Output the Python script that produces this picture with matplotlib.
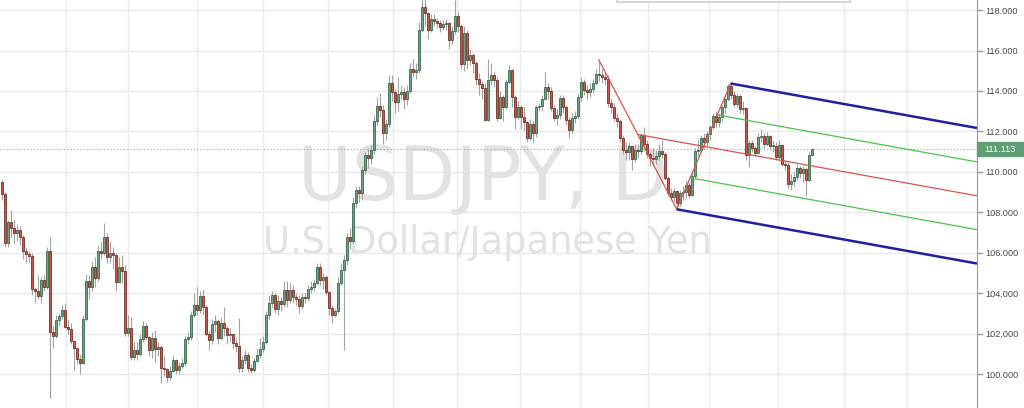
import matplotlib
matplotlib.use("Agg")
import matplotlib.pyplot as plt
from matplotlib.patches import Rectangle
import numpy as np

# USDJPY daily candles, one per trading day (Jun 2016 - Jun 2017)
first_open = 109.5
closes = [
    108.9, 106.5, 107.5, 107.2, 107.0, 107.1, 106.8, 106.1, 105.95, 105.85,
    104.2, 104.1, 103.85, 104.65, 104.3, 106.1, 102.1, 101.9, 102.65, 102.85,
    103.15, 102.35, 102.25, 101.65, 101.3, 100.75, 100.55, 102.7, 104.6, 104.3,
    105.3, 104.75, 106.1, 106.0, 106.8, 105.8, 106.0, 105.9, 104.55, 105.3,
    105.1, 102.05, 102.3, 100.85, 101.2, 101.0, 101.75, 102.4, 101.85, 101.2,
    101.8, 101.25, 101.35, 100.3, 100.25, 99.85, 100.15, 100.7, 100.2, 100.4,
    100.55, 101.75, 101.85, 102.9, 103.4, 103.15, 103.85, 103.3, 102.0, 101.7,
    102.45, 102.6, 101.8, 102.5, 102.3, 101.95, 102.0, 101.55, 101.4, 100.3,
    100.7, 100.95, 100.3, 100.2, 100.65, 100.95, 101.25, 101.6, 102.9, 103.5,
    103.9, 103.2, 103.6, 103.45, 104.15, 103.65, 104.15, 103.8, 103.7, 103.35,
    103.8, 103.75, 104.2, 104.3, 104.5, 105.3, 104.65, 104.8, 104.05, 103.25,
    102.9, 103.1, 104.5, 105.15, 105.65, 106.8, 106.6, 108.45, 109.1, 108.95,
    110.1, 110.85, 110.7, 111.1, 112.5, 113.25, 113.05, 111.9, 112.35, 114.4,
    113.95, 113.45, 113.85, 113.95, 113.6, 114.0, 115.1, 114.95, 115.05, 117.0,
    118.15, 117.85, 117.0, 117.55, 117.45, 117.35, 117.15, 117.3, 117.35, 116.5,
    116.95, 117.7, 117.2, 115.35, 116.85, 115.55, 115.8, 115.4, 114.6, 114.35,
    114.15, 112.55, 114.55, 114.8, 114.55, 112.65, 113.7, 113.2, 114.45, 115.05,
    113.7, 112.7, 113.2, 112.7, 112.45, 111.65, 112.35, 111.9, 113.2, 113.25,
    113.6, 114.2, 114.0, 113.15, 112.65, 112.8, 113.65, 113.2, 112.55, 112.05,
    112.65, 112.75, 113.7, 114.45, 114.05, 113.95, 114.1, 114.4, 114.85, 114.8,
    114.7, 114.6, 113.4, 113.2, 112.65, 112.5, 111.65, 111.1, 111.0, 111.3,
    110.65, 111.1, 111.05, 111.8, 111.4, 110.9, 110.7, 110.65, 110.8, 111.05,
    110.9, 109.7, 108.95, 108.75, 109.05, 108.45, 108.95, 109.0, 109.35, 108.85,
    109.8, 111.05, 111.1, 111.65, 111.5, 111.85, 112.2, 112.75, 112.45, 112.7,
    113.2, 113.6, 114.25, 113.8, 113.35, 113.75, 113.1, 113.15, 110.85, 111.45,
    111.2, 110.95, 111.7, 111.75, 111.4, 111.75, 111.3, 111.3, 110.75, 111.35,
    110.4, 110.35, 109.4, 109.55, 109.75, 110.2, 109.95, 110.15, 109.6, 110.85,
    111.113,
]
highs = [
    109.6, 109.0, 107.6, 108.1, 107.6, 107.4, 107.3, 106.9, 106.3, 106.1,
    106.0, 104.3, 104.9, 104.8, 104.9, 106.3, 106.8, 102.4, 102.9, 103.0,
    103.4, 103.5, 102.7, 102.5, 101.7, 101.3, 101.0, 102.9, 104.95, 104.9,
    105.6, 105.8, 106.4, 106.6, 107.45, 107.0, 106.6, 106.3, 106.0, 105.8,
    105.9, 105.4, 102.9, 102.8, 101.6, 101.6, 102.0, 102.6, 102.5, 101.9,
    102.1, 102.2, 101.6, 101.45, 100.9, 100.3, 100.4, 100.95, 100.75, 100.6,
    100.8, 101.9, 102.1, 103.1, 104.0, 104.3, 104.1, 104.2, 103.4, 102.2,
    102.7, 102.9, 102.7, 102.8, 103.3, 102.4, 102.3, 102.0, 101.8, 102.75,
    100.9, 101.2, 101.1, 100.5, 100.8, 101.3, 101.8, 101.9, 103.1, 103.9,
    104.1, 104.0, 103.9, 103.8, 104.6, 104.6, 104.5, 104.4, 104.0, 103.9,
    104.0, 104.0, 104.4, 104.6, 104.7, 105.5, 105.5, 105.0, 104.9, 104.1,
    103.4, 103.2, 104.8, 105.5, 105.9, 107.0, 107.2, 108.75, 109.3, 109.3,
    110.3, 111.0, 111.2, 111.35, 112.8, 113.7, 113.9, 113.3, 112.6, 114.8,
    114.8, 114.1, 114.7, 114.3, 114.2, 114.3, 115.4, 115.6, 115.4, 117.4,
    118.6, 118.6, 117.9, 117.8, 117.8, 117.6, 117.5, 117.5, 117.55, 117.4,
    117.2, 118.5, 117.9, 117.3, 117.2, 117.0, 116.1, 115.9, 115.5, 114.9,
    114.5, 114.4, 115.6, 115.4, 115.0, 114.7, 114.0, 113.8, 114.6, 115.3,
    115.1, 113.8, 113.5, 113.3, 113.2, 112.5, 112.6, 112.5, 113.3, 113.4,
    113.8, 114.95, 114.4, 114.2, 113.3, 113.1, 113.8, 113.8, 113.3, 112.7,
    112.9, 113.0, 113.9, 114.7, 114.6, 114.3, 114.4, 114.6, 115.1, 115.5,
    115.1, 114.9, 114.8, 113.6, 113.4, 112.9, 112.6, 111.8, 111.5, 111.5,
    111.3, 111.4, 111.4, 111.9, 112.2, 111.6, 111.0, 111.2, 111.1, 111.4,
    111.6, 111.0, 109.8, 109.2, 109.2, 109.1, 109.1, 109.3, 109.6, 109.5,
    110.0, 111.2, 111.6, 111.8, 111.9, 112.0, 112.3, 112.9, 113.0, 112.9,
    113.3, 113.8, 114.35, 114.37, 114.0, 113.9, 113.85, 113.5, 113.2, 111.6,
    111.6, 111.3, 111.9, 112.1, 111.9, 111.95, 111.8, 111.6, 111.5, 111.6,
    111.4, 110.6, 110.5, 109.9, 110.0, 110.4, 110.3, 110.3, 110.2, 111.0,
    111.2,
]
lows = [
    108.6, 106.3, 106.3, 106.8, 106.5, 106.6, 106.4, 105.7, 105.5, 105.5,
    103.9, 103.5, 103.7, 103.5, 104.1, 104.2, 98.8, 101.3, 101.8, 102.4,
    102.7, 102.3, 102.0, 101.5, 100.2, 100.5, 100.0, 100.5, 102.6, 103.7,
    104.1, 104.3, 104.6, 105.7, 105.9, 105.5, 105.5, 105.2, 104.1, 104.5,
    104.5, 101.9, 101.9, 100.7, 100.7, 100.7, 100.9, 101.6, 101.7, 100.9,
    100.8, 100.6, 100.9, 99.55, 99.9, 99.6, 99.7, 100.1, 100.0, 100.0,
    100.3, 100.4, 101.5, 101.7, 102.8, 102.9, 103.0, 102.9, 101.9, 101.2,
    101.5, 102.1, 101.5, 101.7, 101.9, 101.5, 101.6, 101.3, 101.1, 100.1,
    100.1, 100.5, 100.1, 100.05, 100.1, 100.6, 100.8, 101.1, 101.5, 102.7,
    103.3, 103.0, 102.9, 103.1, 103.3, 103.3, 103.5, 103.5, 103.4, 103.0,
    103.2, 103.5, 103.6, 104.0, 104.1, 104.4, 104.4, 104.2, 103.9, 102.9,
    102.5, 102.8, 103.0, 104.4, 101.2, 105.4, 106.2, 106.5, 108.2, 108.5,
    108.6, 109.9, 110.2, 110.4, 110.9, 112.3, 112.7, 111.4, 111.6, 112.2,
    113.5, 112.9, 113.0, 113.6, 113.1, 113.3, 113.9, 114.7, 114.6, 114.9,
    116.9, 117.2, 116.55, 116.9, 117.2, 117.1, 116.9, 117.0, 117.0, 116.1,
    116.3, 116.8, 116.9, 115.1, 115.0, 115.1, 115.3, 114.9, 114.3, 113.8,
    113.6, 112.5, 112.5, 114.3, 114.2, 112.5, 112.6, 112.5, 113.1, 114.4,
    113.2, 112.1, 112.6, 112.1, 112.0, 111.5, 111.6, 111.5, 111.7, 113.0,
    113.0, 113.6, 113.6, 113.0, 112.5, 112.3, 112.6, 112.9, 112.3, 111.65,
    111.9, 112.4, 112.6, 113.5, 113.8, 113.6, 113.7, 113.9, 114.3, 114.5,
    114.4, 114.3, 113.2, 112.9, 112.5, 112.2, 111.5, 110.9, 110.6, 110.6,
    110.1, 110.5, 110.7, 110.9, 111.2, 110.7, 110.3, 110.3, 110.4, 110.6,
    110.7, 109.6, 108.8, 108.6, 108.5, 108.13, 108.3, 108.6, 108.7, 108.7,
    108.8, 109.7, 110.8, 111.0, 111.2, 111.3, 111.6, 112.1, 112.2, 112.2,
    112.5, 112.9, 113.5, 113.6, 113.2, 113.2, 112.9, 112.85, 110.6, 110.25,
    111.0, 110.8, 110.9, 111.5, 111.2, 111.3, 111.1, 111.0, 110.6, 110.6,
    110.3, 110.1, 109.2, 109.1, 109.3, 109.6, 109.7, 109.5, 108.8, 109.5,
    110.8,
]

# month boundaries (bar index) for vertical grid
month_starts = [21.5, 42, 65, 87, 108.8, 130.4, 151.8, 172.8, 192.8, 215.4, 235.8, 258.8, 280.8, 301.8]
price_ticks = [100, 102, 104, 106, 108, 110, 112, 114, 116, 118]
last_price = 111.113

# pitchfork anchors (bar index, price)
pf_x = [199, 225, 243]
pf_y = [115.55, 108.15, 114.37]

W, H = 1024, 408
fig = plt.figure(figsize=(W / 100, H / 100), dpi=100)
ax = fig.add_axes([0, 0, 977 / W, 1])
xmin, xmax = -0.57, 325.1
ax.set_xlim(xmin, xmax)
ax.set_ylim(98.32, 118.5)

ax.set_axisbelow(True)
ax.grid(True, color="#eaeaea", lw=1)
ax.set_xticks(month_starts)
ax.set_xticklabels([])
ax.tick_params(axis="x", length=0)
ax.yaxis.tick_right()
ax.set_yticks(price_ticks)
ax.set_yticklabels([f"{p:.3f}" for p in price_ticks])
ax.tick_params(axis="y", length=4, width=1, color="#9a9a9a", pad=2,
               labelsize=6.6, labelcolor="#4a4a4a")
for lbl in ax.get_yticklabels():
    lbl.set_family("Liberation Sans")
for s in ["top", "left", "bottom"]:
    ax.spines[s].set_visible(False)
ax.spines["right"].set_color("#9a9a9a")

# watermark
ax.text(483 / W, 1 - 200 / H, "USDJPY, D", transform=fig.transFigure, ha="center",
        va="baseline", fontsize=53, color="#e2e2e2", zorder=1)
ax.text(487 / W, 1 - 253 / H, "U.S. Dollar/Japanese Yen", transform=fig.transFigure,
        ha="center", va="baseline", fontsize=26.5, color="#e2e2e2", zorder=1)

# candles
c = np.array(closes)
o = np.array([first_open] + closes[:-1])
hi = np.maximum(np.array(highs), np.maximum(o, c))
lo = np.minimum(np.array(lows), np.minimum(o, c))
idx = np.arange(len(c))
up = c >= o
ax.vlines(idx, lo, hi, color="#a3a3a3", lw=0.8, zorder=2)
body = np.maximum(np.abs(c - o), 0.04)
ax.bar(idx[up], body[up], bottom=o[up], width=0.62, color="#6ba583",
       edgecolor="#225437", lw=0.5, zorder=3)
ax.bar(idx[~up], body[~up], bottom=c[~up], width=0.62, color="#d75442",
       edgecolor="#5b1a13", lw=0.5, zorder=3)

# last price line
ax.axhline(last_price, color="#7fb08e", lw=0.8, ls=(0, (1, 2)), zorder=1.5)

# modified Schiff pitchfork
p1, p2, p3 = np.array([pf_x, pf_y]).T
start = (p1 + p2) / 2
mid = (p2 + p3) / 2
slope = (mid[1] - start[1]) / (mid[0] - start[0])


def ray(pt, color, lw):
    ax.plot([pt[0], xmax], [pt[1], pt[1] + slope * (xmax - pt[0])], color=color,
            lw=lw, zorder=4, solid_capstyle="butt")


ax.plot([p1[0], p2[0], p3[0]], [p1[1], p2[1], p3[1]], color="#d9534f", lw=0.9, zorder=4)
ray(start, "#d9534f", 0.9)
ray((mid + p3) / 2, "#4cc24c", 0.9)
ray((mid + p2) / 2, "#4cc24c", 0.9)
ray(p3, "#1f1fa0", 1.8)
ray(p2, "#1f1fa0", 1.8)

# last price tag
py = (118.5 - last_price) / (118.5 - 98.32)
fig.patches.append(Rectangle((977 / W, 1 - py - 7 / H), 47 / W, 14 / H,
                             transform=fig.transFigure, color="#5f9f75"))
fig.text(1000 / W, 1 - py, f"{last_price:.3f}", ha="center", va="center",
         fontsize=6.6, color="white", family="Liberation Sans")

# partially visible box at the top
fig.patches.append(Rectangle((617 / W, 1 - 2 / H), 233 / W, 10 / H,
                             transform=fig.transFigure, facecolor="white",
                             edgecolor="#d5d5d5", lw=1.5))

fig.savefig("out.png", dpi=100)
plt.close(fig)
